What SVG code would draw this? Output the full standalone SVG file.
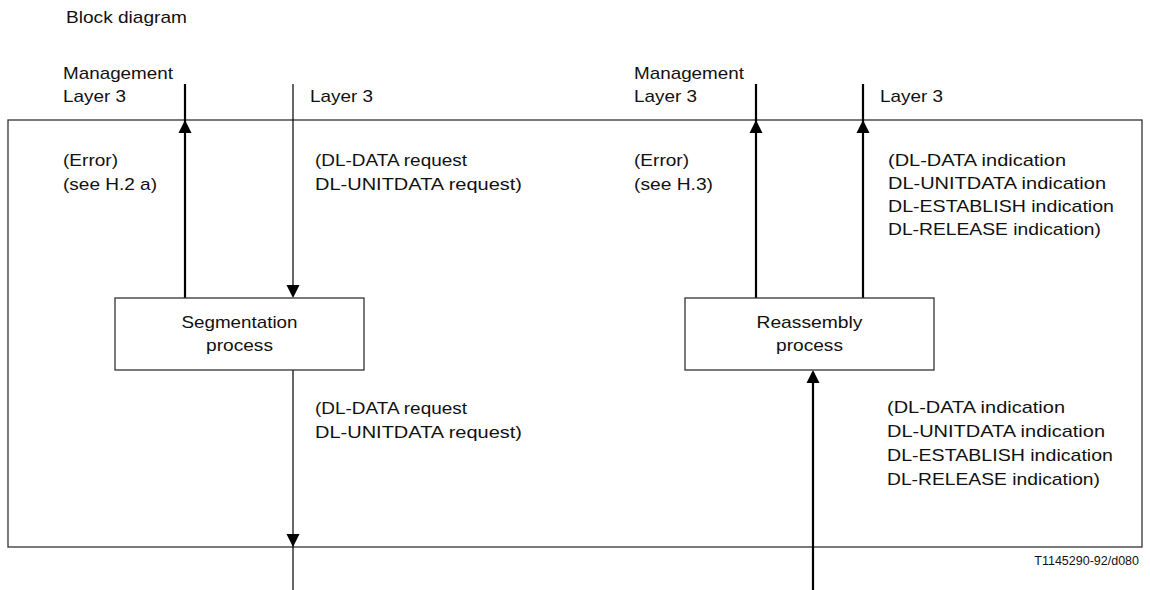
<svg xmlns="http://www.w3.org/2000/svg" xmlns:xlink="http://www.w3.org/1999/xlink" width="1150" height="590" viewBox="0 0 1150 590">
<style>
text{font-family:"Liberation Sans",Arial,sans-serif;font-size:17px;fill:#111}
.small{font-size:12.5px}
.frame{fill:none;stroke:#333;stroke-width:1.3}
.box{fill:#fff;stroke:#333;stroke-width:1.3}
.thick{stroke:#000;stroke-width:2.2;fill:none}
.thin{stroke:#000;stroke-width:1.2;fill:none}
.head{fill:#000}
</style>
<defs>
<path id="up" class="head" d="M0,0 L-6.5,13 L6.5,13 Z"/>
<path id="down" class="head" d="M0,0 L-6.5,-13 L6.5,-13 Z"/>
</defs>
<rect width="1150" height="590" fill="#fff"/>
<text x="66" y="23" textLength="121" lengthAdjust="spacingAndGlyphs">Block diagram</text>
<rect id="frame" class="frame" x="8" y="120" width="1134" height="427"/>

<g id="connectors">
<line class="thick" x1="185" y1="298" x2="185" y2="84"/>
<use xlink:href="#up" x="185" y="120"/>
<line class="thin" x1="293" y1="84" x2="293" y2="296"/>
<use xlink:href="#down" x="293" y="298"/>
<line class="thin" x1="293" y1="370" x2="293" y2="590"/>
<use xlink:href="#down" x="293" y="547"/>
<line class="thick" x1="756" y1="298" x2="756" y2="84"/>
<use xlink:href="#up" x="756" y="120"/>
<line class="thick" x1="863" y1="298" x2="863" y2="84"/>
<use xlink:href="#up" x="863" y="120"/>
<line class="thick" x1="813" y1="590" x2="813" y2="372"/>
<use xlink:href="#up" x="813" y="370"/>
</g>

<g id="segmentation">
<rect class="box" x="115" y="298" width="249" height="72"/>
<text x="239.5" y="328" text-anchor="middle" textLength="116" lengthAdjust="spacingAndGlyphs">Segmentation</text>
<text x="239.5" y="351" text-anchor="middle" textLength="67" lengthAdjust="spacingAndGlyphs">process</text>
</g>

<g id="reassembly">
<rect class="box" x="685" y="298" width="249" height="72"/>
<text x="809.5" y="328" text-anchor="middle" textLength="106" lengthAdjust="spacingAndGlyphs">Reassembly</text>
<text x="809.5" y="351" text-anchor="middle" textLength="67" lengthAdjust="spacingAndGlyphs">process</text>
</g>

<g id="labels-left">
<text x="63" y="79" textLength="110" lengthAdjust="spacingAndGlyphs">Management</text>
<text x="63" y="102" textLength="63" lengthAdjust="spacingAndGlyphs">Layer 3</text>
<text x="310" y="102" textLength="63" lengthAdjust="spacingAndGlyphs">Layer 3</text>
<text x="63" y="166" textLength="55" lengthAdjust="spacingAndGlyphs">(Error)</text>
<text x="63" y="190" textLength="94" lengthAdjust="spacingAndGlyphs">(see H.2 a)</text>
<text x="315" y="166" textLength="152" lengthAdjust="spacingAndGlyphs">(DL-DATA request</text>
<text x="315" y="190" textLength="207" lengthAdjust="spacingAndGlyphs">DL-UNITDATA request)</text>
<text x="315" y="414" textLength="152" lengthAdjust="spacingAndGlyphs">(DL-DATA request</text>
<text x="315" y="438" textLength="207" lengthAdjust="spacingAndGlyphs">DL-UNITDATA request)</text>
</g>

<g id="labels-right">
<text x="634" y="79" textLength="110" lengthAdjust="spacingAndGlyphs">Management</text>
<text x="634" y="102" textLength="63" lengthAdjust="spacingAndGlyphs">Layer 3</text>
<text x="880" y="102" textLength="63" lengthAdjust="spacingAndGlyphs">Layer 3</text>
<text x="634" y="166" textLength="55" lengthAdjust="spacingAndGlyphs">(Error)</text>
<text x="634" y="190" textLength="79" lengthAdjust="spacingAndGlyphs">(see H.3)</text>
<text x="888" y="166" textLength="178" lengthAdjust="spacingAndGlyphs">(DL-DATA indication</text>
<text x="888" y="189" textLength="218" lengthAdjust="spacingAndGlyphs">DL-UNITDATA indication</text>
<text x="888" y="212" textLength="226" lengthAdjust="spacingAndGlyphs">DL-ESTABLISH indication</text>
<text x="888" y="235" textLength="213" lengthAdjust="spacingAndGlyphs">DL-RELEASE indication)</text>
<text x="887" y="413" textLength="178" lengthAdjust="spacingAndGlyphs">(DL-DATA indication</text>
<text x="887" y="437" textLength="218" lengthAdjust="spacingAndGlyphs">DL-UNITDATA indication</text>
<text x="887" y="461" textLength="226" lengthAdjust="spacingAndGlyphs">DL-ESTABLISH indication</text>
<text x="887" y="485" textLength="213" lengthAdjust="spacingAndGlyphs">DL-RELEASE indication)</text>
</g>

<text class="small" x="1139" y="565" text-anchor="end">T1145290-92/d080</text>
</svg>
